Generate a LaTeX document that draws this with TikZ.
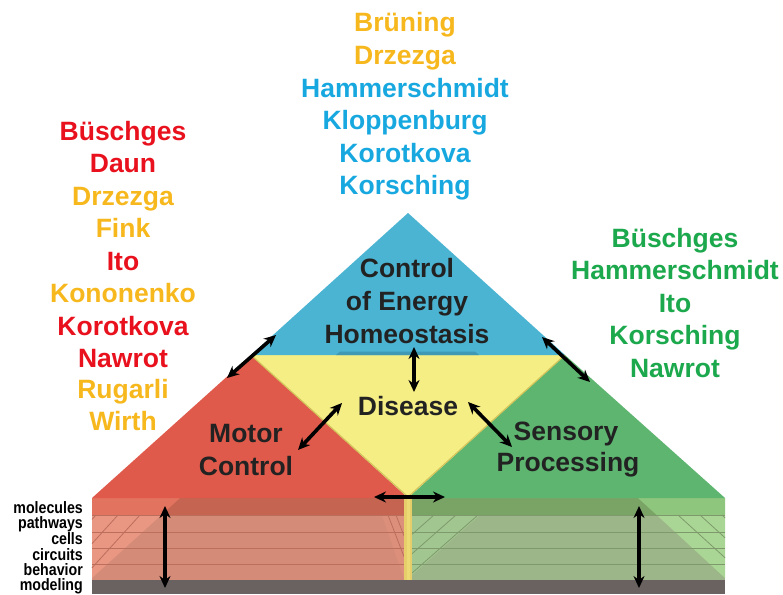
\documentclass[tikz,border=0pt]{standalone}
\usepackage{fontspec}
\setmainfont{Liberation Sans}
\usetikzlibrary{arrows.meta}
\definecolor{bluec}{HTML}{4BB4D2}
\definecolor{blueshade}{HTML}{3F98B4}
\definecolor{yellowc}{HTML}{F5EE85}
\definecolor{yedge}{HTML}{D2C45A}
\definecolor{redc}{HTML}{E05A4B}
\definecolor{greenc}{HTML}{5DB570}
\definecolor{rtopD}{HTML}{C46451}
\definecolor{rtopL}{HTML}{E2735F}
\definecolor{rlay}{HTML}{D48C78}
\definecolor{rlayL}{HTML}{E99783}
\definecolor{rline}{HTML}{BC6E5C}
\definecolor{gtopD}{HTML}{7AA466}
\definecolor{gtopL}{HTML}{8FC67E}
\definecolor{glay}{HTML}{9CB689}
\definecolor{glayL}{HTML}{A9D694}
\definecolor{gline}{HTML}{7E9A6C}
\definecolor{ystrip}{HTML}{E6CF6A}
\definecolor{grayc}{HTML}{6A6260}
\definecolor{tred}{HTML}{E8111D}
\definecolor{tgold}{HTML}{F7B81E}
\definecolor{tblue}{HTML}{18A8E0}
\definecolor{tgreen}{HTML}{1CA84C}
\definecolor{tdark}{HTML}{222222}
\begin{document}
\begin{tikzpicture}[x=1pt,y=-1pt,
  author/.style={font=\bfseries\fontsize{26.5}{30}\selectfont, anchor=base, inner sep=0pt},
  lbl/.style={font=\bfseries\fontsize{26.5}{30}\selectfont, anchor=base, inner sep=0pt, text=tdark},
  lay/.style={font=\bfseries\fontsize{16.5}{18}\selectfont, anchor=base east, inner sep=0pt, text=black, xscale=0.86},
  dbl/.style={{Stealth[length=12pt,width=11pt]}-{Stealth[length=12pt,width=11pt]}, line width=3.6pt, black},
  rl/.style={draw=rline, line width=0.8pt},
  gl/.style={draw=gline, line width=0.8pt}]
\useasboundingbox (0,0) rectangle (783,594);
\fill[white] (0,0) rectangle (783,594);

% ---------- base slab, left (red) ----------
\fill[rlay] (92,515) rectangle (404,580);
\fill[rtopD] (92,498) rectangle (404,515);
\fill[rtopL] (92,498) -- (180,498) -- (161.3,515) -- (92,515) -- cycle;
\fill[rlayL] (92,515) -- (161.3,515) -- (92,578) -- cycle;
\fill[rlayL!40!rlay] (404,515) -- (404,578) -- (382,515) -- cycle;
\foreach \yy in {515,532,548,564} \draw[rl] (92,\yy) -- (404,\yy);
\foreach \xx in {140,118,96} \draw[rl] (\xx,515) -- (92,{515+(\xx-92)*1.1});
\foreach \dd in {8,16} \draw[rl] (404-\dd,515) -- (404,{515+\dd*2.6});
% ---------- base slab, right (green) ----------
\fill[glay] (412,515) rectangle (725,580);
\fill[gtopD] (412,498) rectangle (725,515);
\fill[gtopL] (638,498) -- (725,498) -- (725,515) -- (656.7,515) -- cycle;
\fill[glayL] (656.7,515) -- (725,515) -- (725,578) -- cycle;
\fill[glayL!50!glay] (412,515) -- (480,515) -- (412,575) -- cycle;
\foreach \yy in {515,532,548,564} \draw[gl] (412,\yy) -- (725,\yy);
\foreach \xx in {678,700,722} \draw[gl] (\xx,515) -- (725,{515+(725-\xx)/1.1});
\foreach \xx in {434,456,478} \draw[gl] (\xx,515) -- (412,{515+(\xx-412)*0.88});
% ---------- middle strip and gray ----------
\fill[ystrip] (404,498) rectangle (412,580);
\fill[ystrip!60!yellowc] (406.5,498) rectangle (409.5,580);
\fill[grayc] (92,580) rectangle (725,594);

% ---------- pyramid ----------
\fill[redc] (92,498) -- (251,355) -- (408,498) -- cycle;
\fill[greenc] (565,355) -- (725,498) -- (408,498) -- cycle;
\fill[yellowc] (251,355) -- (565,355) -- (408,497) -- cycle;
\draw[yedge, line width=1.2pt] (251,355) -- (408,497) -- (565,355);
\fill[bluec] (408,213) -- (565,355) -- (251,355) -- cycle;
\fill[blueshade] (340,351.5) -- (475,351.5) -- (479,355) -- (336,355) -- cycle;

% ---------- region labels ----------
\node[lbl] (ce1) at (407,277) {Control};
\node[lbl] (ce2) at (407,310) {of Energy};
\node[lbl] (ce3) at (407,343) {Homeostasis};
\node[lbl] (dis) at (408,415) {Disease};
\node[lbl] (mc1) at (246,442) {Motor};
\node[lbl] (mc2) at (246,475) {Control};
\node[lbl] (sp1) at (566,440) {Sensory};
\node[lbl] (sp2) at (568,471) {Processing};

% ---------- layer labels ----------
\node[lay] (l1) at (83,513) {molecules};
\node[lay] (l2) at (83,528) {pathways};
\node[lay] (l3) at (83,544.5) {cells};
\node[lay] (l4) at (83,560) {circuits};
\node[lay] (l5) at (83,575.5) {behavior};
\node[lay] (l6) at (83,590.5) {modeling};

% ---------- author names, top ----------
\node[author, text=tgold] (t1) at (405,32) {Brüning};
\node[author, text=tgold] (t2) at (405,64) {Drzezga};
\node[author, text=tblue] (t3) at (405,97) {Hammerschmidt};
\node[author, text=tblue] (t4) at (405,129) {Kloppenburg};
\node[author, text=tblue] (t5) at (405,162) {Korotkova};
\node[author, text=tblue] (t6) at (405,194) {Korsching};
% ---------- author names, left ----------
\node[author, text=tred]  (a1) at (123,140) {Büschges};
\node[author, text=tred]  (a2) at (123,172.5) {Daun};
\node[author, text=tgold] (a3) at (123,205) {Drzezga};
\node[author, text=tgold] (a4) at (123,237.5) {Fink};
\node[author, text=tred]  (a5) at (123,270) {Ito};
\node[author, text=tgold] (a6) at (123,302.5) {Kononenko};
\node[author, text=tred]  (a7) at (123,335) {Korotkova};
\node[author, text=tred]  (a8) at (123,367) {Nawrot};
\node[author, text=tgold] (a9) at (123,398.5) {Rugarli};
\node[author, text=tgold] (a10) at (123,430.5) {Wirth};
% ---------- author names, right ----------
\node[author, text=tgreen] (b1) at (675,247) {Büschges};
\node[author, text=tgreen] (b2) at (675,279) {Hammerschmidt};
\node[author, text=tgreen] (b3) at (675,312) {Ito};
\node[author, text=tgreen] (b4) at (675,344) {Korsching};
\node[author, text=tgreen] (b5) at (675,377) {Nawrot};

% ---------- arrows ----------
\coordinate (br1) at (227,378); \coordinate (br2) at (276,335);
\coordinate (bg1) at (542,337); \coordinate (bg2) at (590,382);
\coordinate (by1) at (414,347); \coordinate (by2) at (414,392);
\coordinate (yr1) at (342,403); \coordinate (yr2) at (298,450);
\coordinate (yg1) at (468,402); \coordinate (yg2) at (512,447);
\coordinate (rg1) at (374,497); \coordinate (rg2) at (445,497);
\coordinate (sl1) at (165,506); \coordinate (sl2) at (165,588);
\coordinate (sr1) at (639,506); \coordinate (sr2) at (639,588);
\draw[dbl] (br1) -- (br2);
\draw[dbl] (bg1) -- (bg2);
\draw[dbl] (by1) -- (by2);
\draw[dbl] (yr1) -- (yr2);
\draw[dbl] (yg1) -- (yg2);
\draw[dbl] (rg1) -- (rg2);
\draw[dbl] (sl1) -- (sl2);
\draw[dbl] (sr1) -- (sr2);
\end{tikzpicture}
\end{document}
